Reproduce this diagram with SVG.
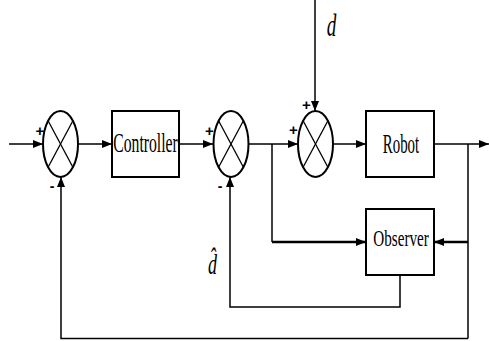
<svg xmlns="http://www.w3.org/2000/svg" width="489" height="341" viewBox="0 0 489 341">
<style>
.ln{fill:none;stroke:#000;stroke-width:1.5}
.thk{fill:none;stroke:#000;stroke-width:2.5}
.box{fill:#fff;stroke:#000;stroke-width:2}
.sum{fill:#fff;stroke:#000;stroke-width:2}
.x{stroke:#000;stroke-width:1.3}
.lbl{font-family:"Liberation Serif","Times New Roman",serif;fill:#000}
.sgn{font-family:"Liberation Sans",Arial,sans-serif;font-weight:bold;fill:#000}
</style>
<defs>
<marker id="ah" markerWidth="10" markerHeight="8" refX="10" refY="4" orient="auto" markerUnits="userSpaceOnUse">
<path d="M0,0 L10,4 L0,8 Z" fill="#000"/>
</marker>
</defs>
<rect width="489" height="341" fill="#fff"/>
<g id="connectors">
<line class="ln" x1="9" y1="144" x2="43" y2="144" marker-end="url(#ah)"/>
<line class="ln" x1="78" y1="144" x2="112" y2="144" marker-end="url(#ah)"/>
<line class="ln" x1="179" y1="144" x2="213" y2="144" marker-end="url(#ah)"/>
<line class="ln" x1="248" y1="144" x2="298" y2="144" marker-end="url(#ah)"/>
<line class="ln" x1="333" y1="144" x2="366" y2="144" marker-end="url(#ah)"/>
<line class="ln" x1="434" y1="144" x2="489" y2="144" marker-end="url(#ah)"/>
<line class="ln" x1="315" y1="0" x2="315" y2="111" marker-end="url(#ah)"/>
<polyline class="ln" points="272,144 272,242"/>
<line class="thk" x1="272" y1="242" x2="366" y2="242" marker-end="url(#ah)"/>
<line class="ln" x1="468" y1="144" x2="468" y2="338.5"/>
<line class="thk" x1="468" y1="242" x2="434" y2="242" marker-end="url(#ah)"/>
<polyline class="ln" points="400,275 400,307 230,307 230,177" marker-end="url(#ah)"/>
<polyline class="ln" points="468,338.5 61,338.5 61,177" marker-end="url(#ah)"/>
</g>
<g id="sum1">
<ellipse class="sum" cx="60.5" cy="144" rx="17.5" ry="33"/>
<line class="x" x1="48.1" y1="120.7" x2="72.9" y2="167.3"/>
<line class="x" x1="72.9" y1="120.7" x2="48.1" y2="167.3"/>
<text class="sgn" x="40" y="136" font-size="15" text-anchor="middle">+</text>
<text class="sgn" x="52" y="191" font-size="14" text-anchor="middle">-</text>
</g>
<g id="controller">
<rect class="box" x="112" y="111" width="67" height="66"/>
<text class="lbl" transform="translate(145.5,152) scale(0.56,1)" font-size="28" text-anchor="middle">Controller</text>
</g>
<g id="sum2">
<ellipse class="sum" cx="231" cy="144" rx="17.5" ry="33"/>
<line class="x" x1="218.6" y1="120.7" x2="243.4" y2="167.3"/>
<line class="x" x1="243.4" y1="120.7" x2="218.6" y2="167.3"/>
<text class="sgn" x="209.5" y="136" font-size="15" text-anchor="middle">+</text>
<text class="sgn" x="220" y="191" font-size="14" text-anchor="middle">-</text>
</g>
<g id="sum3">
<ellipse class="sum" cx="315.5" cy="144" rx="17.5" ry="33"/>
<line class="x" x1="303.1" y1="120.7" x2="327.9" y2="167.3"/>
<line class="x" x1="327.9" y1="120.7" x2="303.1" y2="167.3"/>
<text class="sgn" x="306.5" y="110" font-size="15" text-anchor="middle">+</text>
<text class="sgn" x="293.5" y="135" font-size="15" text-anchor="middle">+</text>
</g>
<g id="robot">
<rect class="box" x="366" y="111" width="68" height="66"/>
<text class="lbl" transform="translate(401,153) scale(0.53,1)" font-size="28" text-anchor="middle">Robot</text>
</g>
<g id="observer">
<rect class="box" x="366" y="209" width="68" height="66"/>
<text class="lbl" transform="translate(401,246) scale(0.66,1)" font-size="23" text-anchor="middle">Observer</text>
</g>
<g id="labels">
<text class="lbl" transform="translate(331.5,36) scale(0.6,1)" font-size="32" font-style="italic" text-anchor="middle">d</text>
<text class="lbl" transform="translate(212.5,274) scale(0.6,1)" font-size="30" font-style="italic" text-anchor="middle">d̂</text>
</g>
</svg>
